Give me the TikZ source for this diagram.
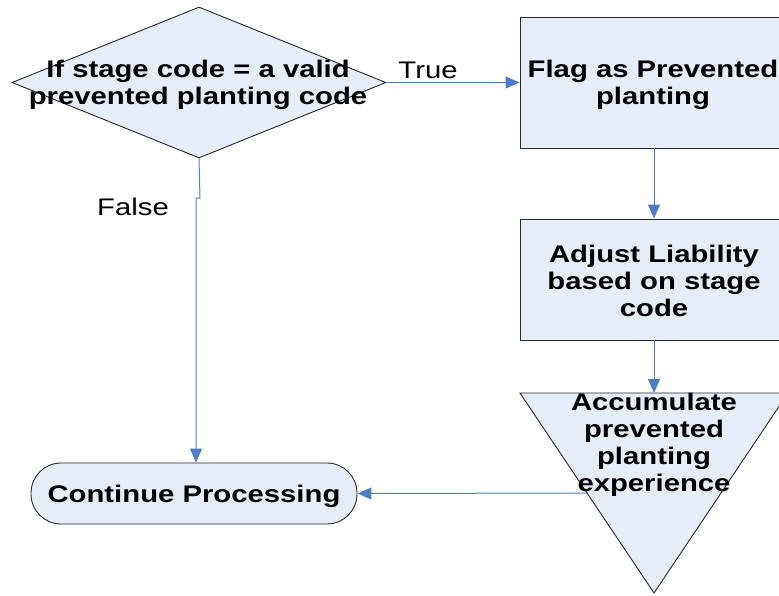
\documentclass[tikz,border=0pt]{standalone}
\usepackage{fontspec}
\setmainfont{Liberation Sans}[FakeStretch=1.22]
\usetikzlibrary{shapes.geometric,arrows.meta}
\definecolor{shapefill}{RGB}{230,236,248}
\definecolor{linkblue}{RGB}{79,124,196}
\definecolor{edgegray}{RGB}{40,40,40}
\begin{document}
\begin{tikzpicture}[x=1pt,y=-1pt,
  shapebox/.style={draw=edgegray,fill=shapefill,line width=0.9pt,inner sep=0pt},
  txt/.style={font=\fontsize{24}{27}\selectfont\bfseries,align=center,inner sep=0pt},
  lbl/.style={font=\fontsize{24}{27}\selectfont,inner sep=0pt},
  link/.style={draw=linkblue,line width=1pt,-{Triangle[length=14pt,width=12pt]}},
  plainlink/.style={draw=linkblue,line width=1pt}]
\useasboundingbox (0,0) rectangle (779,595);
\clip (0,0) rectangle (779,595);
% decision
\node[shapebox,diamond,minimum width=374pt,minimum height=151pt] (dec) at (199,82.5) {};
\node[txt] (dectxt) at (198,85) {If stage code = a valid\\prevented planting code};
% flag box
\node[shapebox,rectangle,minimum width=268pt,minimum height=131pt] (flag) at (654,82.5) {};
\node[txt] (flagtxt) at (653,85) {Flag as Prevented\\planting};
% adjust box
\node[shapebox,rectangle,minimum width=268pt,minimum height=121pt] (adj) at (654,279.5) {};
\node[txt] (adjtxt) at (654,281) {Adjust Liability\\based on stage\\code};
% triangle
\coordinate (triTL) at (520,393);
\coordinate (triTR) at (788,393);
\coordinate (triB) at (654,593);
\coordinate (triTop) at (654,393);
\coordinate (triOut) at (587,493);
\draw[draw=edgegray,fill=shapefill,line width=0.9pt] (triTL) -- (triTR) -- (triB) -- cycle;
% continue
\node[shapebox,rectangle,rounded corners=30pt,minimum width=326pt,minimum height=61pt] (cont) at (194,493.5) {};
\node[txt] (conttxt) at (194,496) {Continue Processing};
% connectors
\draw[link] (dec.east) -- (flag.west);
\node[lbl] (truelbl) at (428,70) {True};
\coordinate (jogA) at (200,198);
\coordinate (jogB) at (196,198);
\draw[link] (dec.south) -- (jogA) -- (jogB) -- (jogB |- cont.north);
\node[lbl] (falselbl) at (133,207) {False};
\draw[link] (flag.south) -- (adj.north);
\draw[link] (adj.south) -- (triTop);
\draw[link] (triOut) -- (cont.east);
% triangle text on top
\node[txt] (tritxt) at (654,445) {Accumulate\\prevented\\planting\\experience};
\end{tikzpicture}
\end{document}
